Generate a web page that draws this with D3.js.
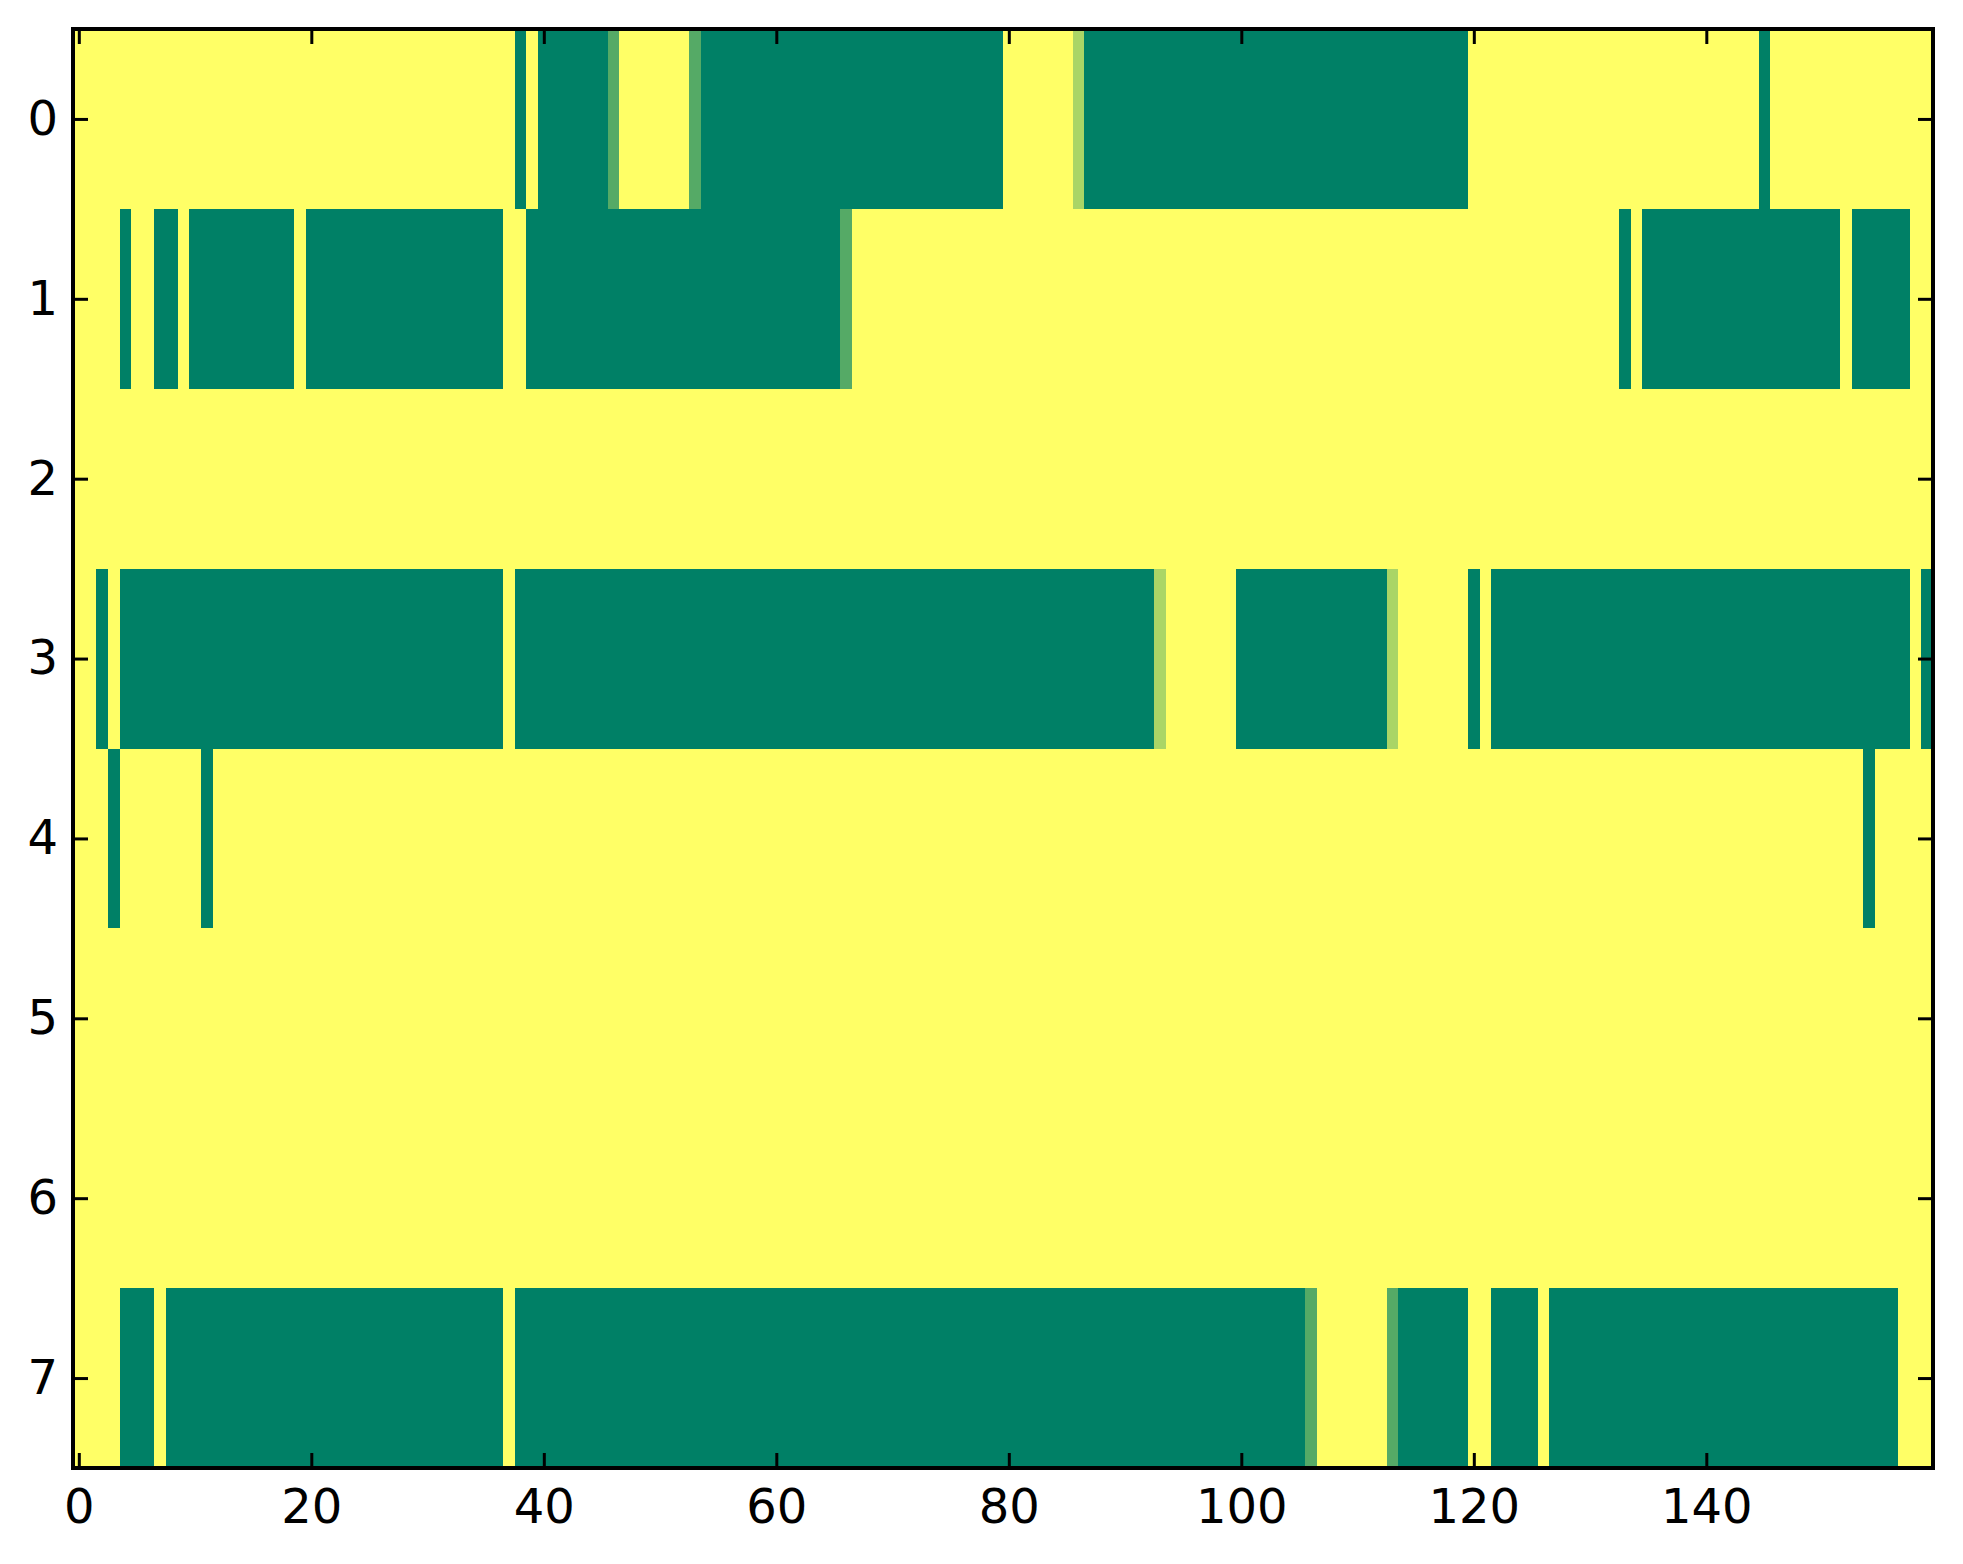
<!DOCTYPE html>
<html>
<head>
<meta charset="utf-8">
<script src="https://cdn.jsdelivr.net/npm/d3@7"></script>
<style>
  html, body { margin: 0; padding: 0; background: #ffffff; }
  svg { display: block; }
</style>
</head>
<body>
<svg id="chart" width="1963" height="1564"></svg>
<script>
// Cell values per row (0 = darkest green ... 3 = yellow), 160 columns each, grouped by 10
const row0 = "3333333333 3333333333 3333333333 3333333303 0000001333 3331000000 0000000000 0000000000 3333332000 0000000000 0000000000 0000000000 3333333333 3333333333 3333303333 3333333333";
const row1 = "3333033003 0000000003 0000000000 0000000330 0000000000 0000000000 0000001333 3333333333 3333333333 3333333333 3333333333 3333333333 3333333333 3330300000 0000000000 0030000033";
const row2 = "3333333333 3333333333 3333333333 3333333333 3333333333 3333333333 3333333333 3333333333 3333333333 3333333333 3333333333 3333333333 3333333333 3333333333 3333333333 3333333333";
const row3 = "3303000000 0000000000 0000000000 0000000300 0000000000 0000000000 0000000000 0000000000 0000000000 0002333333 0000000000 0002333333 0300000000 0000000000 0000000000 0000000030";
const row4 = "3330333333 3033333333 3333333333 3333333333 3333333333 3333333333 3333333333 3333333333 3333333333 3333333333 3333333333 3333333333 3333333333 3333333333 3333333333 3333033333";
const row5 = "3333333333 3333333333 3333333333 3333333333 3333333333 3333333333 3333333333 3333333333 3333333333 3333333333 3333333333 3333333333 3333333333 3333333333 3333333333 3333333333";
const row6 = "3333333333 3333333333 3333333333 3333333333 3333333333 3333333333 3333333333 3333333333 3333333333 3333333333 3333333333 3333333333 3333333333 3333333333 3333333333 3333333333";
const row7 = "3333000300 0000000000 0000000000 0000000300 0000000000 0000000000 0000000000 0000000000 0000000000 0000000000 0000001333 3331000000 3300003000 0000000000 0000000000 0000000333";
const rowStrings = [row0, row1, row2, row3, row4, row5, row6, row7];
const xTickValues = [0, 20, 40, 60, 80, 100, 120, 140];
const yTickValues = [0, 1, 2, 3, 4, 5, 6, 7];
const valueDomain = [0, 3];
const colorRange = ["#008066", "#ffff66"]; // matplotlib "summer" endpoints

(function () {
  const rows = rowStrings.map(s => s.replace(/ /g, "").split("").map(Number));
  const nCols = rows[0].length;
  const nRows = rows.length;

  const cells = [];
  rows.forEach((r, ri) => r.forEach((v, ci) => cells.push({ row: ri, col: ci, value: v })));

  const pLeft = 73, pRight = 1933, pTop = 29, pBottom = 1468;

  const x = d3.scaleLinear().domain([-0.5, nCols - 0.5]).range([pLeft, pRight]);
  const y = d3.scaleLinear().domain([-0.5, nRows - 0.5]).range([pTop, pBottom]);
  const color = d3.scaleLinear().domain(valueDomain).range(colorRange).interpolate(d3.interpolateRgb);

  const svg = d3.select("#chart");

  svg.append("g")
    .attr("shape-rendering", "crispEdges")
    .selectAll("rect")
    .data(cells)
    .join("rect")
    .attr("x", d => x(d.col - 0.5))
    .attr("y", d => y(d.row - 0.5))
    .attr("width", d => x(d.col + 0.5) - x(d.col - 0.5) + 0.5)
    .attr("height", d => y(d.row + 0.5) - y(d.row - 0.5) + 0.5)
    .attr("fill", d => color(d.value));

  const tickLen = 15;
  const font = "'DejaVu Sans', sans-serif";

  function styleAxis(g, showLabels) {
    g.select(".domain").remove();
    g.selectAll(".tick line").attr("stroke", "#000").attr("stroke-width", 3);
    g.selectAll(".tick text")
      .attr("fill", "#000")
      .style("font-family", font)
      .style("font-size", "48px");
    if (!showLabels) g.selectAll(".tick text").remove();
  }

  svg.append("g")
    .attr("transform", `translate(0,${pBottom})`)
    .call(d3.axisBottom(x).tickValues(xTickValues).tickSizeInner(-tickLen).tickSizeOuter(0).tickPadding(21))
    .call(g => styleAxis(g, true));

  svg.append("g")
    .attr("transform", `translate(0,${pTop})`)
    .call(d3.axisTop(x).tickValues(xTickValues).tickSizeInner(-tickLen).tickSizeOuter(0))
    .call(g => styleAxis(g, false));

  svg.append("g")
    .attr("transform", `translate(${pLeft},0)`)
    .call(d3.axisLeft(y).tickValues(yTickValues).tickSizeInner(-tickLen).tickSizeOuter(0).tickPadding(15))
    .call(g => styleAxis(g, true));

  svg.append("g")
    .attr("transform", `translate(${pRight},0)`)
    .call(d3.axisRight(y).tickValues(yTickValues).tickSizeInner(-tickLen).tickSizeOuter(0))
    .call(g => styleAxis(g, false));

  svg.append("rect")
    .attr("x", pLeft)
    .attr("y", pTop)
    .attr("width", pRight - pLeft)
    .attr("height", pBottom - pTop)
    .attr("fill", "none")
    .attr("stroke", "#000")
    .attr("stroke-width", 4);
})();
</script>
</body>
</html>
